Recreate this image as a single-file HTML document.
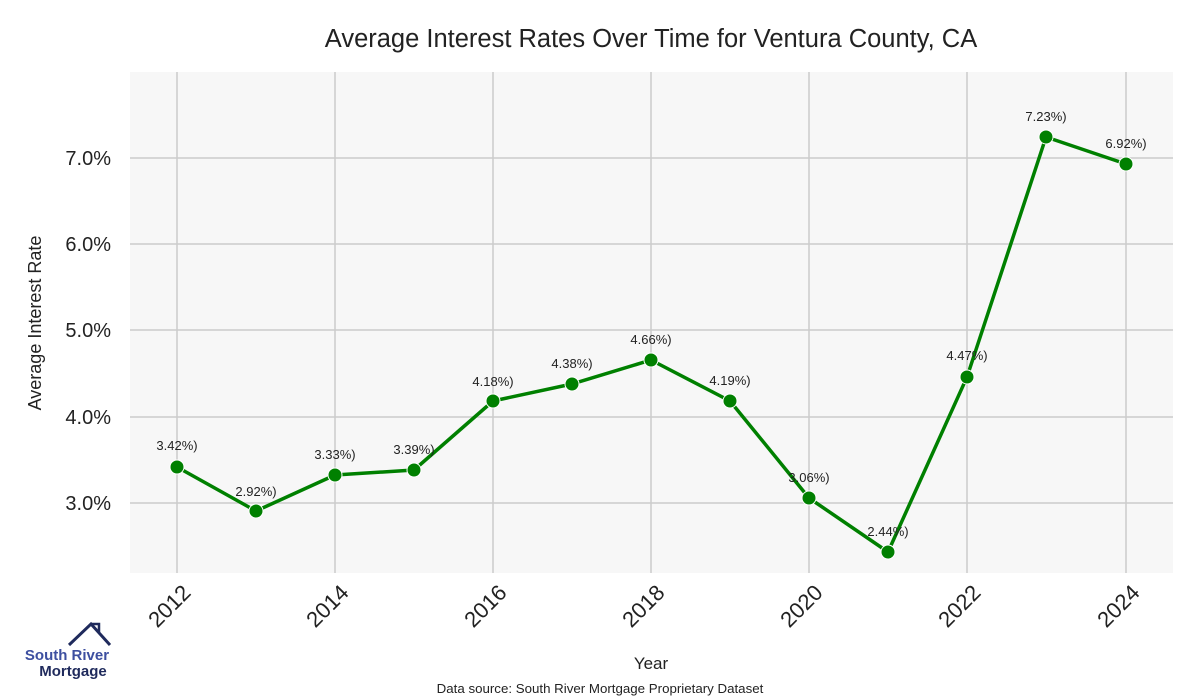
<!DOCTYPE html>
<html><head><style>body{margin:0;background:#fff}svg{display:block}</style></head><body>
<svg width="1200" height="700" xmlns="http://www.w3.org/2000/svg" font-family="Liberation Sans, sans-serif">
<rect width="1200" height="700" fill="#fff"/>
<rect x="130" y="72" width="1043" height="501" fill="#f7f7f7"/>
<g stroke="#cccccc" stroke-width="1.5">
<line x1="177" y1="72" x2="177" y2="573"/><line x1="335" y1="72" x2="335" y2="573"/><line x1="493" y1="72" x2="493" y2="573"/><line x1="651" y1="72" x2="651" y2="573"/><line x1="809" y1="72" x2="809" y2="573"/><line x1="967" y1="72" x2="967" y2="573"/><line x1="1126" y1="72" x2="1126" y2="573"/>
<line x1="130" y1="158" x2="1173" y2="158"/><line x1="130" y1="244" x2="1173" y2="244"/><line x1="130" y1="330" x2="1173" y2="330"/><line x1="130" y1="417" x2="1173" y2="417"/><line x1="130" y1="503" x2="1173" y2="503"/>
</g>
<g font-size="20" fill="#222" text-anchor="end">
<text x="111" y="165">7.0%</text><text x="111" y="251">6.0%</text><text x="111" y="337">5.0%</text><text x="111" y="424">4.0%</text><text x="111" y="510">3.0%</text>
</g>
<g font-size="22" fill="#222" text-anchor="end">
<text transform="translate(192,594) rotate(-45)">2012</text>
<text transform="translate(350,594) rotate(-45)">2014</text>
<text transform="translate(508,594) rotate(-45)">2016</text>
<text transform="translate(666,594) rotate(-45)">2018</text>
<text transform="translate(824,594) rotate(-45)">2020</text>
<text transform="translate(982,594) rotate(-45)">2022</text>
<text transform="translate(1141,594) rotate(-45)">2024</text>
</g>
<text x="651" y="47" font-size="25.5" fill="#222" text-anchor="middle">Average Interest Rates Over Time for Ventura County, CA</text>
<text x="651" y="669" font-size="17" fill="#222" text-anchor="middle">Year</text>
<text transform="translate(41,323) rotate(-90)" font-size="18" fill="#222" text-anchor="middle">Average Interest Rate</text>
<text x="600" y="693" font-size="13.3" fill="#222" text-anchor="middle">Data source: South River Mortgage Proprietary Dataset</text>
<polyline fill="none" stroke="#008000" stroke-width="3.5" stroke-linejoin="round" points="177,467 256,511 335,475 414,470 493,401 572,384 651,360 730,401 809,498 888,552 967,377 1046,137 1126,164"/>
<g fill="#008000" stroke="#fff" stroke-width="1">
<circle cx="177" cy="467" r="7"/><circle cx="256" cy="511" r="7"/><circle cx="335" cy="475" r="7"/><circle cx="414" cy="470" r="7"/><circle cx="493" cy="401" r="7"/><circle cx="572" cy="384" r="7"/><circle cx="651" cy="360" r="7"/><circle cx="730" cy="401" r="7"/><circle cx="809" cy="498" r="7"/><circle cx="888" cy="552" r="7"/><circle cx="967" cy="377" r="7"/><circle cx="1046" cy="137" r="7"/><circle cx="1126" cy="164" r="7"/>
</g>
<g font-size="13" fill="#222" text-anchor="middle">
<text x="177" y="450">3.42%)</text><text x="256" y="496">2.92%)</text><text x="335" y="459">3.33%)</text><text x="414" y="454">3.39%)</text><text x="493" y="386">4.18%)</text><text x="572" y="368">4.38%)</text><text x="651" y="344">4.66%)</text><text x="730" y="385">4.19%)</text><text x="809" y="482">3.06%)</text><text x="888" y="536">2.44%)</text><text x="967" y="360">4.47%)</text><text x="1046" y="121">7.23%)</text><text x="1126" y="148">6.92%)</text>
</g>
<polyline fill="none" stroke="#1f2a5c" stroke-width="3" points="69,645 91,624 110,645"/>
<polyline fill="none" stroke="#1f2a5c" stroke-width="2.5" points="91,624 99,624 99,632"/>
<text x="67" y="660" font-size="15" font-weight="bold" fill="#3d4fa0" text-anchor="middle">South River</text>
<text x="73" y="676" font-size="15" font-weight="bold" fill="#1f2a5c" text-anchor="middle">Mortgage</text>
</svg>
</body></html>
